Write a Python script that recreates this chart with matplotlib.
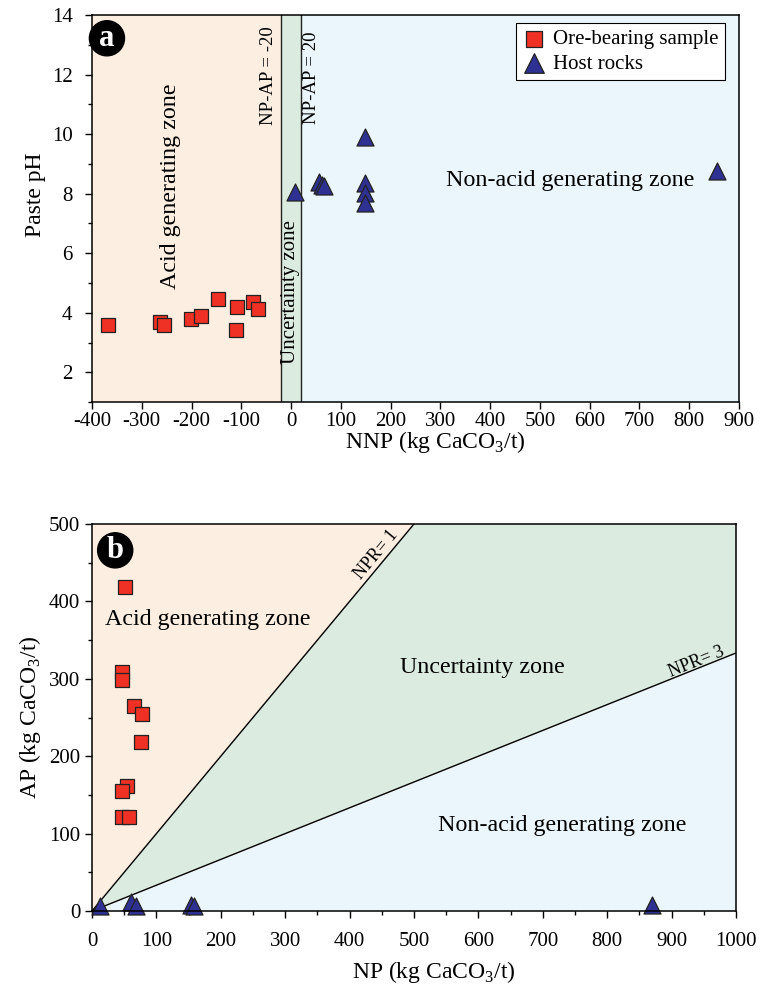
import numpy as np
import matplotlib.pyplot as plt
from matplotlib.ticker import MultipleLocator

plt.rcParams['font.family'] = ['Liberation Serif', 'DejaVu Serif']
plt.rcParams['mathtext.fontset'] = 'custom'
plt.rcParams['mathtext.rm'] = 'Liberation Serif'
plt.rcParams['axes.unicode_minus'] = False

# panel a: NNP vs paste pH
ore_nnp = [-367, -263, -255, -202, -180, -146, -109, -111, -77, -66]
ore_ph = [3.59, 3.70, 3.59, 3.78, 3.89, 4.46, 4.20, 3.42, 4.37, 4.11]
host_nnp = [8, 57, 62, 66, 148, 148, 148, 148, 856]
host_ph = [8.07, 8.40, 8.29, 8.26, 9.92, 8.35, 8.02, 7.70, 8.76]

# panel b: NP vs AP
ore_np = [51, 47, 46, 65, 78, 76, 55, 46, 47, 58]
ore_ap = [419, 309, 298, 265, 255, 218, 162, 155, 122, 122]
host_np = [12, 61, 69, 153, 158, 870]
host_ap = [7, 11, 6, 8, 7, 8]

c_acid = '#fdeee2'
c_unc = '#dcebdf'
c_non = '#ebf6fc'
c_sq = '#ee3124'
c_tri = '#2e3192'

fig = plt.figure(figsize=(7.61, 9.90), dpi=100)
ax1 = fig.add_axes([0.1209, 0.5939, 0.8502, 0.3909])
ax2 = fig.add_axes([0.1209, 0.0798, 0.8462, 0.3909])

# ---- panel a ----
ax1.set_xlim(-400, 900)
ax1.set_ylim(1, 14)
ax1.axvspan(-400, -20, color=c_acid, lw=0, zorder=0)
ax1.axvspan(-20, 20, color=c_unc, lw=0, zorder=0)
ax1.axvspan(20, 900, color=c_non, lw=0, zorder=0)
ax1.axvline(-20, color='#222222', lw=1.0, zorder=1)
ax1.axvline(20, color='#222222', lw=1.0, zorder=1)

ax1.scatter(ore_nnp, ore_ph, marker='s', s=110, c=c_sq, edgecolors='#222222',
            linewidths=0.9, zorder=3, label='Ore-bearing sample')
ax1.scatter(host_nnp, host_ph, marker='^', s=150, c=c_tri, edgecolors='#222222',
            linewidths=0.9, zorder=3, label='Host rocks')

ax1.text(-243, 8.25, 'Acid generating zone', rotation=90, fontsize=17.3,
         ha='center', va='center')
ax1.text(-46, 11.95, 'NP-AP = -20', rotation=90, fontsize=13.5, ha='center', va='center')
ax1.text(41, 11.9, 'NP-AP = 20', rotation=90, fontsize=13.5, ha='center', va='center')
ax1.text(-2, 4.7, 'Uncertainty zone', rotation=90, fontsize=15, ha='center', va='center')
ax1.text(560, 8.45, 'Non-acid generating zone', fontsize=17.3, ha='center', va='center')

ax1.text(-370, 13.22, 'a', fontsize=22, fontweight='bold', color='white',
         ha='center', va='center',
         bbox=dict(boxstyle='circle,pad=0.1', fc='black', ec='black'))

leg = ax1.legend(loc='upper right', bbox_to_anchor=(0.978, 0.979), borderaxespad=0,
                 fontsize=15, fancybox=False, framealpha=1, edgecolor='black',
                 handletextpad=0.3, borderpad=0.3, labelspacing=0.25,
                 handlelength=1.2, markerscale=1.15)
leg.get_frame().set_linewidth(0.8)

ax1.xaxis.set_major_locator(MultipleLocator(100))
ax1.yaxis.set_major_locator(MultipleLocator(2))
ax1.yaxis.set_minor_locator(MultipleLocator(1))
ax1.set_xlabel('NNP (kg CaCO$_3$/t)', fontsize=17, labelpad=-1)
ax1.set_ylabel('Paste pH', fontsize=17)
ax1.tick_params(axis='x', pad=2)
ax1.tick_params(axis='y', pad=9)
ax1.xaxis.label.set_x(0.531)
ax1.yaxis.label.set_y(0.535)

# ---- panel b ----
ax2.set_xlim(0, 1000)
ax2.set_ylim(0, 500)
xx = np.array([0, 1000])
ax2.fill_between(xx, 0, 500, color=c_acid, lw=0, zorder=0)
ax2.fill([0, 500, 1000, 1000], [0, 500, 500, 1000 / 3], color=c_unc, lw=0, zorder=0)
ax2.fill_between(xx, 0, xx / 3, color=c_non, lw=0, zorder=0)
ax2.plot([0, 500], [0, 500], color='black', lw=1.0, zorder=1)
ax2.plot([0, 1000], [0, 1000 / 3], color='black', lw=1.0, zorder=1)

ax2.scatter(ore_np, ore_ap, marker='s', s=110, c=c_sq, edgecolors='#222222',
            linewidths=0.9, zorder=3, clip_on=False)
ax2.scatter(host_np, host_ap, marker='^', s=150, c=c_tri, edgecolors='#222222',
            linewidths=0.9, zorder=3, clip_on=False)

ax2.text(180, 376, 'Acid generating zone', fontsize=17.3, ha='center', va='center')
ax2.text(606, 315, 'Uncertainty zone', fontsize=17.3, ha='center', va='center')
ax2.text(730, 111, 'Non-acid generating zone', fontsize=17.3, ha='center', va='center')

fig.canvas.draw()
def line_angle(ax, slope):
    p0 = ax.transData.transform((0, 0))
    p1 = ax.transData.transform((100, 100 * slope))
    return np.degrees(np.arctan2(p1[1] - p0[1], p1[0] - p0[0]))

ax2.text(442, 460, 'NPR= 1', rotation=line_angle(ax2, 1), fontsize=13,
         ha='center', va='center', rotation_mode='anchor')
ax2.text(939, 322, 'NPR= 3', rotation=line_angle(ax2, 1 / 3), fontsize=13,
         ha='center', va='center', rotation_mode='anchor')

ax2.text(36, 466, 'b', fontsize=22, fontweight='bold', color='white',
         ha='center', va='center',
         bbox=dict(boxstyle='circle,pad=0.1', fc='black', ec='black'))

ax2.xaxis.set_major_locator(MultipleLocator(100))
ax2.xaxis.set_minor_locator(MultipleLocator(50))
ax2.yaxis.set_major_locator(MultipleLocator(100))
ax2.yaxis.set_minor_locator(MultipleLocator(50))
ax2.set_xlabel('NP (kg CaCO$_3$/t)', fontsize=17, labelpad=6)
ax2.set_ylabel('AP (kg CaCO$_3$/t)', fontsize=17)
ax2.xaxis.label.set_x(0.531)

for ax in (ax1, ax2):
    ax.tick_params(which='major', direction='out', length=5, width=1, labelsize=15)
    ax.tick_params(which='minor', direction='out', length=3, width=1)
    for sp in ax.spines.values():
        sp.set_linewidth(1.1)
        sp.set_zorder(5)
ax2.tick_params(axis='x', which='major', pad=10)

fig.savefig('out.png', dpi=100)
